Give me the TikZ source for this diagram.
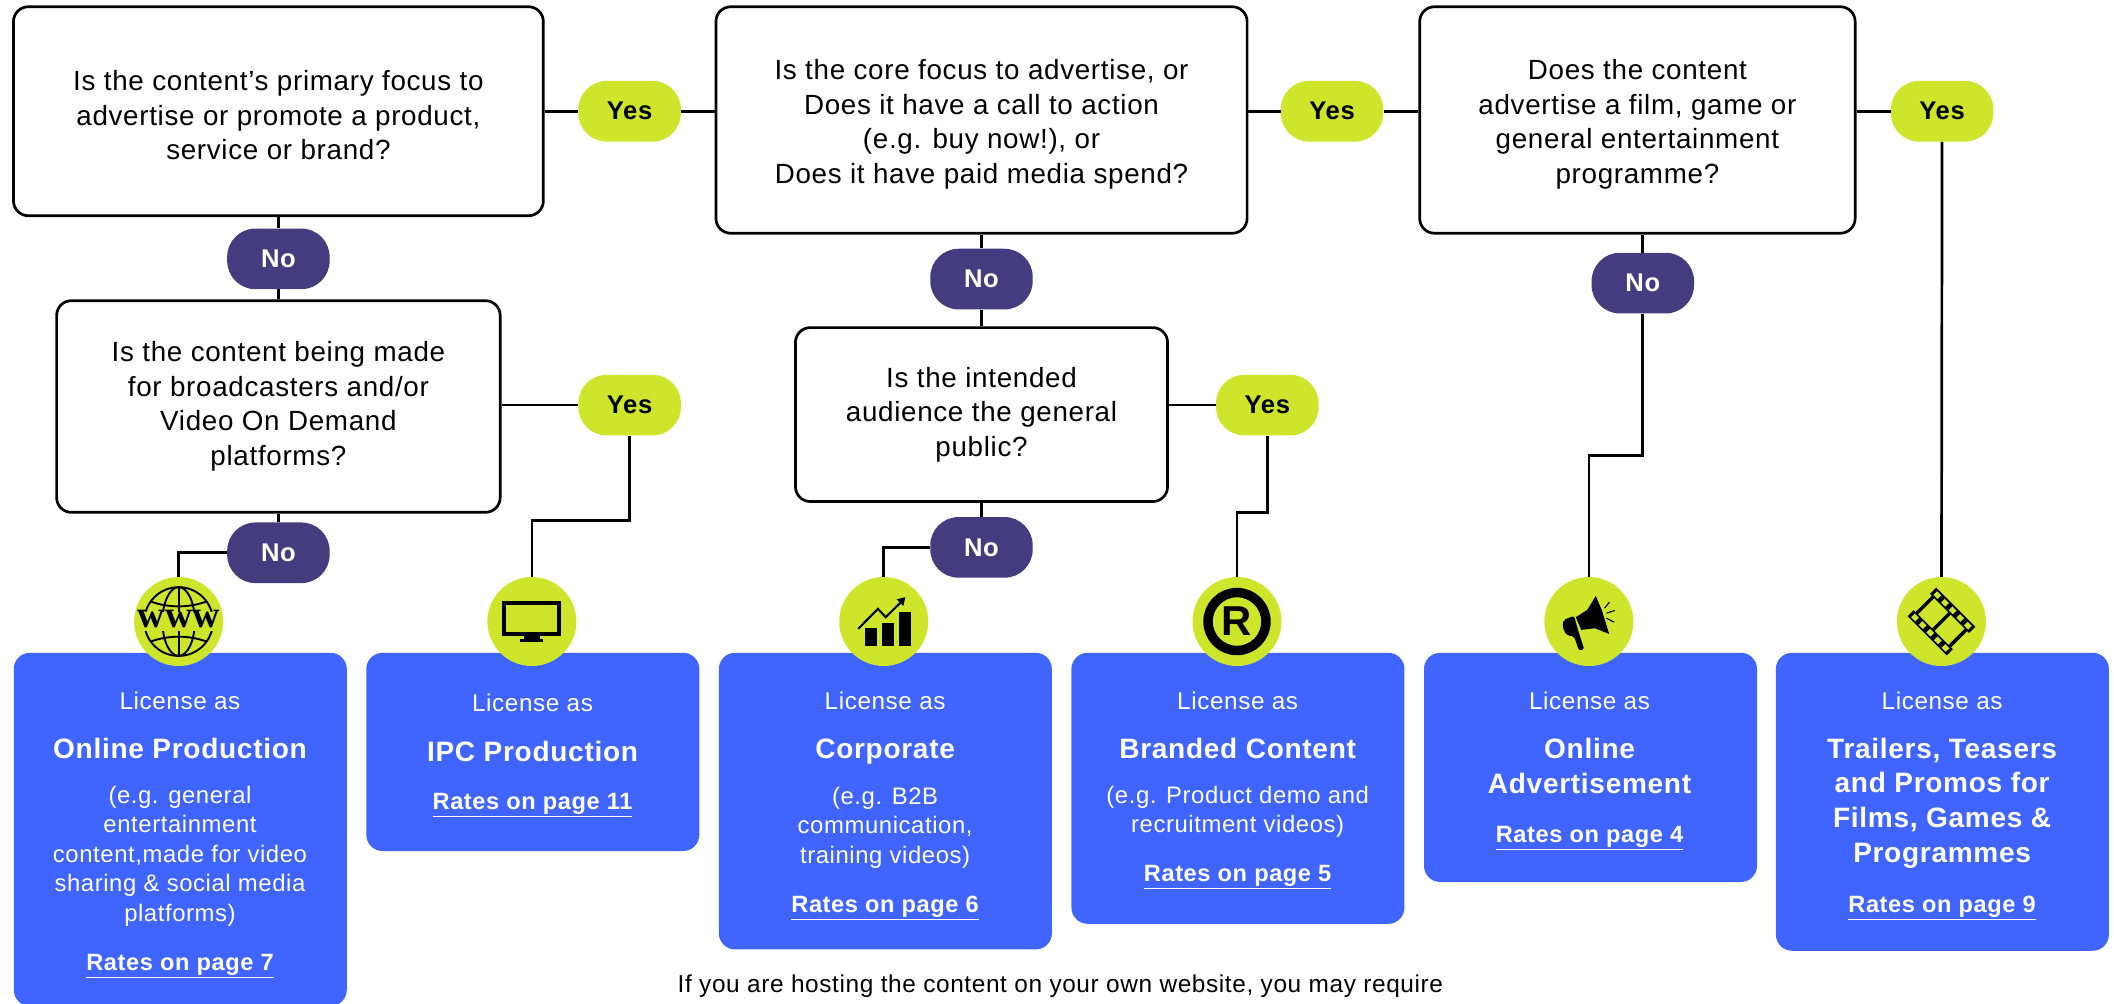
\documentclass[tikz,border=0pt]{standalone}
\usepackage{fontspec}
\setmainfont[LetterSpace=2.5]{Liberation Sans}
\newfontfamily\slabfont{Liberation Serif}
\newcommand{\lowtext}{\rule{0pt}{21pt}}
\definecolor{limeback}{HTML}{CDE62B}
\definecolor{navyback}{HTML}{443C7E}
\definecolor{blueback}{HTML}{4064FF}
\begin{document}
\begin{tikzpicture}[
        x=1pt, y=-1pt,
        question/.style={rectangle, draw, line width=2pt, rounded corners=11pt, align=center, inner sep=0pt, font=\fontsize{20.6}{25.6}\selectfont},
        yespill/.style={rectangle, fill=limeback, rounded corners=21pt, minimum width=76pt, minimum height=45pt, inner sep=0pt, font=\fontsize{19}{23}\selectfont\bfseries},
        nopill/.style={yespill, fill=navyback, text=white},
        licbox/.style={rectangle, fill=blueback, rounded corners=12pt, anchor=north west, minimum width=247pt, inner sep=0pt},
        licas/.style={text=white, inner sep=0pt, anchor=base, font=\fontsize{18}{21}\selectfont},
        lictitle/.style={text=white, align=center, inner sep=0pt, font=\fontsize{20.8}{25.7}\selectfont\bfseries},
        licname/.style={lictitle, anchor=base},
        licnote/.style={text=white, align=center, inner sep=0pt, font=\fontsize{17.7}{21.8}\selectfont},
        licrate/.style={text=white, inner sep=0pt, anchor=base, font=\fontsize{17.5}{21}\selectfont\bfseries},
        iconback/.style={circle, fill=limeback, minimum size=66pt, inner sep=0pt},
        link/.style={line width=2pt}
    ]
        \useasboundingbox (0,0) rectangle (1568,744);

        % questions
        \node[question, minimum width=393pt, minimum height=155pt] (primary) at (206.5,82.5) {\lowtext Is the content’s primary focus to\\advertise or promote a product,\\service or brand?};
        \node[question, minimum width=329pt, minimum height=157pt] (broadcast) at (206.5,301.5) {Is the content being made\\for broadcasters and/or\\Video On Demand\\platforms?};
        \node[question, minimum width=394pt, minimum height=168pt] (core) at (728,89) {\lowtext Is the core focus to advertise, or\\Does it have a call to action\\(e.g. buy now!), or\\Does it have paid media spend?};
        \node[question, minimum width=276pt, minimum height=129pt] (audience) at (728,307.5) {Is the intended\\audience the general\\public?};
        \node[question, minimum width=323pt, minimum height=168pt] (film) at (1214.5,89) {\lowtext Does the content\\advertise a film, game or\\general entertainment\\programme?};

        % yes and no
        \node[yespill] (yesa) at (467,82.5) {Yes};
        \node[yespill] (yesb) at (467,300.5) {Yes};
        \node[yespill] (yesc) at (988,82.5) {Yes};
        \node[yespill] (yesd) at (940,300.5) {Yes};
        \node[yespill] (yese) at (1440.5,82.5) {Yes};
        \node[nopill] (noa) at (206.5,192) {No};
        \node[nopill] (nob) at (206.5,410) {No};
        \node[nopill] (noc) at (728,207) {No};
        \node[nopill] (nod) at (728,406) {No};
        \node[nopill] (noe) at (1218.5,210) {No};

        % licence boxes
        \node[licbox, minimum height=262pt] (online) at (10,484) {};
        \node[licbox, minimum height=147pt] (ipc) at (271.5,484) {};
        \node[licbox, minimum height=220pt] (corporate) at (533,484) {};
        \node[licbox, minimum height=201pt] (branded) at (794.5,484) {};
        \node[licbox, minimum height=170pt] (advert) at (1056,484) {};
        \node[licbox, minimum height=221pt] (trailers) at (1317,484) {};

        \node[licas] (onlineas) at (133.5,526.5) {License as};
        \node[licname] (onlinetitle) at (133.5,562.5) {Online Production};
        \node[licnote] (onlinenote) at (133.5,635) {(e.g. general\\entertainment\\content,made for video\\sharing \& social media\\platforms)};
        \node[licrate] (onlinerate) at (133.5,719.5) {\underline{Rates on page 7}};

        \node[licas] (ipcas) at (395,528) {License as};
        \node[licname] (ipctitle) at (395,564.5) {IPC Production};
        \node[licrate] (ipcrate) at (395,600.5) {\underline{Rates on page 11}};

        \node[licas] (corporateas) at (656.5,526.5) {License as};
        \node[licname] (corporatetitle) at (656.5,562.5) {Corporate};
        \node[licnote] (corporatenote) at (656.5,614) {(e.g. B2B\\communication,\\training videos)};
        \node[licrate] (corporaterate) at (656.5,676.5) {\underline{Rates on page 6}};

        \node[licas] (brandedas) at (918,526.5) {License as};
        \node[licname] (brandedtitle) at (918,562.5) {Branded Content};
        \node[licnote] (brandednote) at (918,602) {(e.g. Product demo and\\recruitment videos)};
        \node[licrate] (brandedrate) at (918,653.5) {\underline{Rates on page 5}};

        \node[licas] (advertas) at (1179,526.5) {License as};
        \node[lictitle] (adverttitle) at (1179,568) {Online\\Advertisement};
        \node[licrate] (advertrate) at (1179,625) {\underline{Rates on page 4}};

        \node[licas] (trailersas) at (1440.5,526.5) {License as};
        \node[lictitle] (trailerstitle) at (1440.5,595.5) {Trailers, Teasers\\and Promos for\\Films, Games \&\\Programmes};
        \node[licrate] (trailersrate) at (1440.5,676.5) {\underline{Rates on page 9}};

        \node[inner sep=0pt, font=\fontsize{18.1}{21}\selectfont] (hosting) at (786.5,731.5) {If you are hosting the content on your own website, you may require};

        % icon discs
        \node[iconback] (discweb) at (132.5,461) {};
        \node[iconback] (disctv) at (394.5,461) {};
        \node[iconback] (discchart) at (655.5,461) {};
        \node[iconback] (discreg) at (917.5,461) {};
        \node[iconback] (discmega) at (1178.5,461) {};
        \node[iconback] (discfilm) at (1440,461) {};

        % connectors
        \draw[link] (primary) -- (yesa);
        \draw[link] (yesa) -- (yesa -| core.west);
        \draw[link] (core.east |- yesc) -- (yesc);
        \draw[link] (yesc) -- (yesc -| film.west);
        \draw[link] (film.east |- yese) -- (yese);
        \draw[link] (yese) -- (discfilm);
        \draw[link] (primary) -- (noa);
        \draw[link] (noa) -- (broadcast);
        \draw[link] (broadcast.east |- yesb) -- (yesb);
        \draw[link] (broadcast) -- (nob);
        \draw[link] (nob) -| (discweb);
        \draw[link] (yesb.south) -- (yesb.south |- 0,386) -| (disctv);
        \draw[link] (core) -- (noc);
        \draw[link] (noc) -- (audience);
        \draw[link] (audience.east |- yesd) -- (yesd);
        \draw[link] (audience) -- (nod);
        \draw[link] (nod) -| (discchart);
        \draw[link] (yesd.south) -- (yesd.south |- 0,380) -| (discreg);
        \draw[link] (film.south -| noe) -- (noe);
        \draw[link] (noe.south) -- (noe.south |- 0,338) -| (discmega);

        % www globe
        \begin{scope}[shift={(discweb)}]
            \draw[line width=1.4pt] (0,0) circle (25.5);
            \draw[line width=1.4pt] (0,0) ellipse (12 and 25.5);
            \draw[line width=1.4pt] (0,-25.5) -- (0,25.5);
            \draw[line width=1.4pt] (-21,-15) .. controls (-8,-10) and (8,-10) .. (21,-15);
            \draw[line width=1.4pt] (-21,15) .. controls (-8,10) and (8,10) .. (21,15);
            \fill[limeback] (-31,-7) rectangle (31,7);
            \node[inner sep=0pt, font=\fontsize{28}{28}\slabfont\bfseries] (webtext) at (0,-1.5) {www};
        \end{scope}

        % monitor
        \begin{scope}[shift={(disctv)}]
            \draw[line width=3pt] (-20.4,-13.8) rectangle (20.4,9.1);
            \fill (-5.7,10.6) rectangle (5.7,12.9);
            \fill (-8.5,12.9) rectangle (8.5,15.3);
        \end{scope}

        % bars and arrow
        \begin{scope}[shift={(discchart)}]
            \fill (-14,5) rectangle (-5,17.8);
            \fill (-1.4,1.2) rectangle (7.7,17.8);
            \fill (11.1,-7) rectangle (20.2,17.8);
            \draw[line width=1.5pt] (-19,5.4) -- (-4.3,-9.4) -- (1.4,-3.2) -- (13.6,-15.2);
            \fill (16,-18) -- (9.5,-16.5) -- (14.5,-11.5) -- cycle;
        \end{scope}

        % registered mark
        \begin{scope}[shift={(discreg)}]
            \draw[line width=7pt] (0,0) circle (21.5);
            \node[inner sep=0pt, font=\fontsize{31}{31}\selectfont\bfseries] (regtext) at (0,0) {R};
        \end{scope}

        % megaphone
        \begin{scope}[shift={(discmega)}]
            \fill (-9.7,-3.2) -- (-1.1,-8.7) -- (5.1,-19) -- (9.7,-8.2) -- (15,9.2) -- (4.5,5) -- (-5.7,6.2) -- cycle;
            \fill[rounded corners=1.5pt] (-18.8,-1.2) -- (-11,-4.2) -- (-8,6.5) -- (-3.5,20.5) -- (-7.4,21.5) -- (-11,11) -- (-16.8,10) -- (-19.6,3.7) -- cycle;
            \draw[line width=0.8pt] (11.6,-9.9) -- (15.3,-14.4);
            \draw[line width=0.8pt] (13,-6.2) -- (19.3,-8.2);
            \draw[line width=0.8pt] (13,-2.5) -- (18.8,0.5);
        \end{scope}

        % film strip
        \begin{scope}[shift={(discfilm)}, rotate=-45]
            \fill (-20.5,8.5) rectangle (20.5,15);
            \fill (-20.5,-15) rectangle (20.5,-8.5);
            \foreach \rail in {-11.7,11.7} {
                \foreach \hole in {-16,-8,0,8,16} {
                    \fill[limeback] (\hole-2.2,\rail-1.9) rectangle (\hole+2.2,\rail+1.9);
                }
            }
            \fill (-18.5,-9) rectangle (-16,9);
            \fill (-1.25,-9) rectangle (1.25,9);
            \fill (16,-9) rectangle (18.5,9);
        \end{scope}
    \end{tikzpicture}
\end{document}
